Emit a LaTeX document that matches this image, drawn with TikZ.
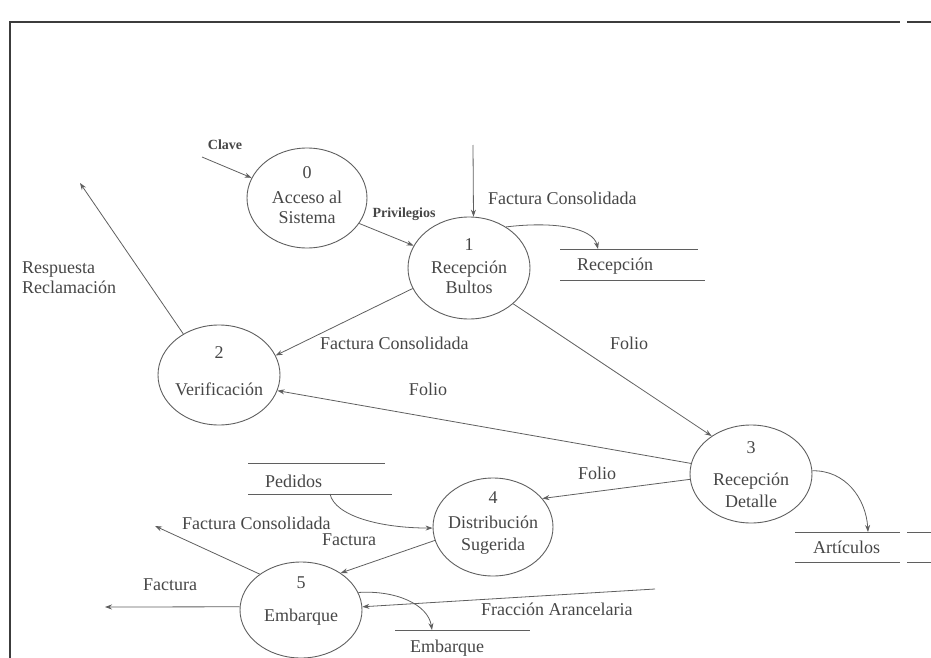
\documentclass[tikz,border=0pt]{standalone}
\usepackage{fontspec}
\setmainfont{Liberation Serif}
\usetikzlibrary{arrows.meta,shapes.geometric}
\definecolor{ink}{RGB}{70,70,70}
\definecolor{wire}{RGB}{95,95,95}
\definecolor{rule}{RGB}{60,60,60}

\begin{document}
\begin{tikzpicture}[x=1pt,y=-1pt,
  proc/.style={ellipse, draw=wire, line width=0.9pt, inner sep=0pt},
  ptext/.style={text=ink, align=center, font=\fontsize{18}{20}\selectfont, inner sep=0pt},
  lbl/.style={text=ink, font=\fontsize{18}{20}\selectfont, inner sep=0pt},
  tiny/.style={text=ink, font=\fontsize{14}{16}\selectfont\bfseries, inner sep=0pt},
  flow/.style={draw=wire, line width=0.8pt, -{Stealth[length=7pt,width=5pt]}},
  storeline/.style={draw=wire, line width=0.9pt},
  border/.style={draw=rule, line width=1.4pt},
]
\useasboundingbox (0,0) rectangle (931,658);

% page border (top and left)
\draw[border] (10,658) -- (10,22) -- (900,22);
\draw[border] (907,22) -- (931,22);

% processes
\node[proc, minimum width=120pt, minimum height=100pt] (p0) at (307,198) {};
\node[proc, minimum width=122pt, minimum height=102pt] (p1) at (469,268) {};
\node[proc, minimum width=122pt, minimum height=100pt] (p2) at (219,375) {};
\node[proc, minimum width=122pt, minimum height=98pt]  (p3) at (751,474) {};
\node[proc, minimum width=120pt, minimum height=98pt]  (p4) at (493,527) {};
\node[proc, minimum width=122pt, minimum height=96pt]  (p5) at (301,610) {};

\node[ptext] (t0) at (307,195.5) {0\\[5pt]Acceso al\\Sistema};
\node[ptext] (t1) at (469,266.5) {1\\[3pt]Recepción\\Bultos};
\node[ptext] (t2) at (219,371.5) {2\\[17pt]Verificación};
\node[ptext] (t3) at (751,475) {3\\[12pt]Recepción\\[2pt]Detalle};
\node[ptext] (t4) at (493,523.5) {4\\[5pt]Distribución\\[2pt]Sugerida};
\node[ptext] (t5) at (301,601.5) {5\\[13pt]Embarque};

% data stores
\draw[storeline] (560,249) -- (698,249);
\draw[storeline] (560,280) -- (705,280);
\node[lbl, anchor=west] (sRec) at (577,266) {Recepción};

\draw[storeline] (248,463) -- (385,463);
\draw[storeline] (248,494) -- (392,494);
\node[lbl, anchor=west] (sPed) at (265,481) {Pedidos};

\draw[storeline] (795,532) -- (900,532);
\draw[storeline] (907,532) -- (931,532);
\draw[storeline] (795,562) -- (900,562);
\draw[storeline] (907,562) -- (931,562);
\node[lbl, anchor=west] (sArt) at (813,547) {Artículos};

\draw[storeline] (395,630) -- (530,630);
\node[lbl, anchor=west] (sEmb) at (410,648) {Embarque};

% free ends of flows
\coordinate (inClave) at (202,157);
\coordinate (inFact) at (473,145);
\coordinate (toRec) at (598,249);
\coordinate (outResp) at (80,183);
\coordinate (fromPed) at (330,494);
\coordinate (outFC) at (155,526);
\coordinate (outFact) at (105,607);
\coordinate (inFrac) at (655,589);
\coordinate (toEmb) at (432,630);
\coordinate (toArt) at (868,532);

% flows
\draw[flow] (inClave) -- (p0.160);
\draw[flow] (p0.-26) -- (p1.158);
\draw[flow] (inFact) -- (p1.85);
\draw[flow] (p1.48) .. controls (555,221) and (593,228) .. (toRec);
\draw[flow] (p1.200) -- (p2.19);
\draw[flow] (p1.-39) -- (p3.136);
\draw[flow] (p3.170) -- (p2.-15);
\draw[flow] (p3.185) -- (p4.30);
\draw[flow] (p2.131) -- (outResp);
\draw[flow] (fromPed) .. controls (335,516) and (380,528) .. (p4.181);
\draw[flow] (p4.193) -- (p5.43);
\draw[flow] (p5.139) -- (outFC);
\draw[flow] (p5.177) -- (outFact);
\draw[flow] (inFrac) -- (p5.3);
\draw[flow] (p5.17) .. controls (395,590) and (428,604) .. (toEmb);
\draw[flow] (p3.3) .. controls (845,470) and (866,498) .. (toArt);

% flow labels
\node[tiny] (lClave) at (225,145) {Clave};
\node[tiny] (lPriv) at (404,214) {Privilegios};
\node[lbl, anchor=west] (lFC1) at (488,198) {Factura Consolidada};
\node[lbl, anchor=west] (lFC2) at (320,343) {Factura Consolidada};
\node[lbl] (lFolio1) at (629,343) {Folio};
\node[lbl] (lFolio2) at (428,389) {Folio};
\node[lbl] (lFolio3) at (597,473) {Folio};
\node[lbl, anchor=west, align=left] (lResp) at (22,278) {Respuesta\\Reclamación};
\node[lbl, anchor=west] (lFC3) at (182,523) {Factura Consolidada};
\node[lbl, anchor=west] (lFact1) at (322,540) {Factura};
\node[lbl, anchor=west] (lFact2) at (143,585) {Factura};
\node[lbl, anchor=west] (lFrac) at (481,609) {Fracción Arancelaria};
\end{tikzpicture}
\end{document}
